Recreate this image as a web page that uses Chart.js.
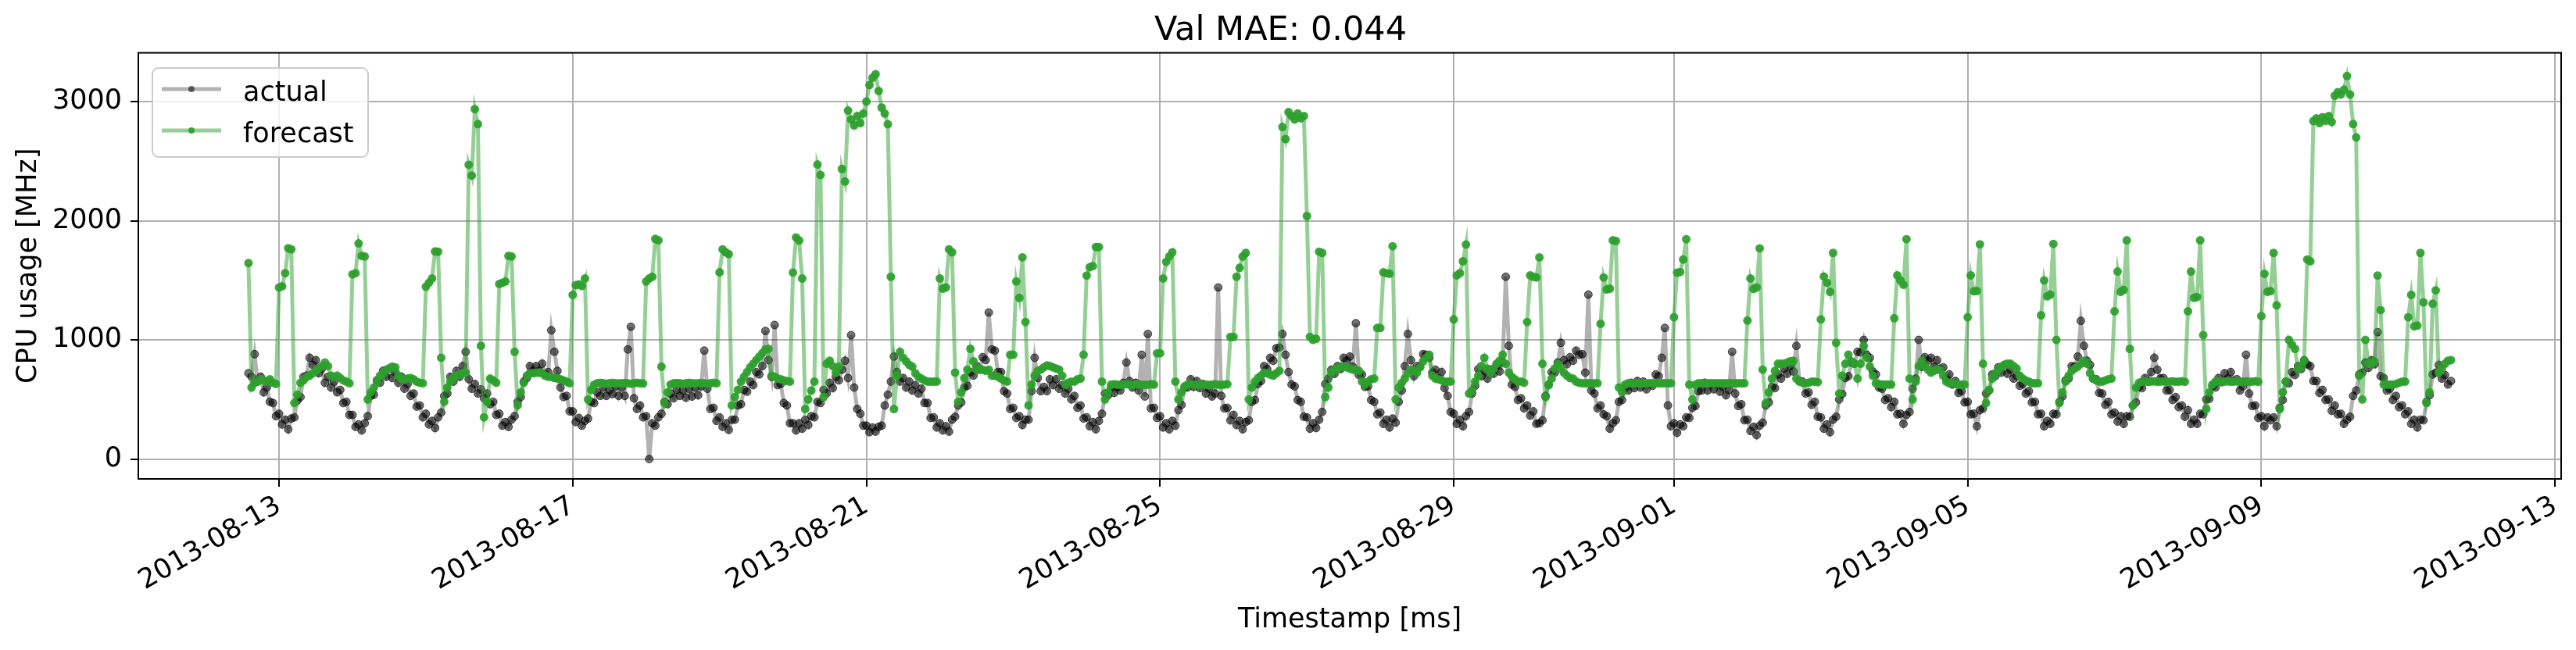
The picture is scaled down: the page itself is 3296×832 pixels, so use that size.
<!DOCTYPE html>
<html>
<head>
<meta charset="utf-8">
<title>Val MAE: 0.044</title>
<script src="https://cdn.jsdelivr.net/npm/chart.js@4.4.1/dist/chart.umd.min.js"></script>
<style>
  html, body { margin: 0; padding: 0; background: #fff; }
  #wrap { width: 3296px; height: 832px; }
</style>
</head>
<body>
<div id="wrap"><canvas id="cpuChart" width="3296" height="832"></canvas></div>
<script>
// hourly samples, first one at 2013-08-12 14:00
const startTime = Date.UTC(2013, 7, 12, 14);
const stepMs = 3600 * 1000;

const xTickLabels = ["2013-08-13", "2013-08-17", "2013-08-21", "2013-08-25", "2013-08-29",
                     "2013-09-01", "2013-09-05", "2013-09-09", "2013-09-13"];
const yTicks = [0, 1000, 2000, 3000];

const actual = [
  720, 690, 880, 650, 690, 560, 600, 480, 470, 360,
  380, 290, 330, 250, 340, 350, 490, 520, 690, 700, 850, 790, 830, 720, 760, 640, 690, 600, 650, 560, 580, 470, 480, 370,
  370, 270, 290, 240, 300, 360, 530, 540, 660, 640, 740, 690, 760, 680, 730, 640, 690, 590, 630, 530, 550, 440, 450, 350,
  380, 290, 320, 260, 350, 390, 530, 550, 690, 650, 740, 690, 780, 900, 670, 590, 630, 550, 585, 510, 550, 460, 480, 370,
  380, 280, 310, 270, 330, 360, 480, 520, 650, 680, 780, 740, 780, 740, 800, 710, 730, 1080, 900, 740, 600, 520, 530, 400,
  400, 310, 345, 280, 320, 340, 480, 470, 560, 530, 600, 530, 580, 545, 610, 530, 600, 530, 920, 1110, 510, 420, 450, 350,
  360, 0, 300, 280, 350, 380, 480, 460, 550, 510, 580, 530, 575, 515, 590, 525, 600, 535, 610, 910, 590, 420, 430, 320,
  350, 270, 300, 245, 330, 330, 450, 460, 580, 565, 650, 620, 730, 710, 780, 1075, 830, 690, 1125, 620, 630, 470, 450, 300,
  300, 240, 300, 255, 330, 285, 360, 350, 480, 470, 580, 550, 640, 595, 690, 660, 750, 825, 680, 1040, 600, 420, 380, 280,
  280, 225, 265, 230, 270, 280, 450, 540, 650, 860, 730, 650, 680, 600, 650, 575, 620, 550, 590, 470, 470, 345, 350, 265,
  300, 240, 275, 230, 330, 355, 450, 475, 600, 615, 730, 700, 780, 750, 855, 830, 1230, 920, 910, 730, 730, 570, 550, 420,
  430, 345, 360, 285, 330, 330, 570, 850, 680, 570, 605, 570, 670, 620, 670, 590, 620, 550, 590, 500, 530, 430, 450, 340,
  350, 275, 310, 250, 320, 380, 550, 535, 600, 555, 605, 575, 640, 810, 655, 600, 640, 575, 875, 525, 1050, 425, 430, 345,
  360, 265, 300, 250, 320, 280, 410, 455, 600, 600, 670, 605, 655, 595, 630, 550, 590, 525, 550, 1440, 530, 425, 430, 325,
  370, 285, 320, 250, 310, 325, 480, 495, 630, 655, 780, 755, 850, 825, 930, 935, 1050, 875, 730, 625, 610, 495, 480, 355,
  350, 255, 300, 260, 330, 395, 630, 675, 750, 715, 780, 755, 850, 825, 860, 775, 1140, 705, 710, 605, 610, 495, 480, 375,
  390, 295, 330, 265, 340, 305, 480, 575, 780, 1050, 830, 695, 780, 775, 880, 875, 850, 725, 750, 675, 730, 595, 530, 395,
  380, 295, 330, 275, 360, 395, 550, 615, 755, 695, 740, 675, 750, 715, 780, 735, 810, 1530, 950, 625, 605, 495, 510, 425,
  450, 365, 400, 295, 300, 325, 530, 625, 730, 725, 810, 975, 830, 795, 855, 825, 910, 875, 880, 725, 1380, 575, 550, 425,
  450, 375, 360, 255, 300, 325, 480, 495, 600, 575, 640, 595, 655, 600, 650, 585, 630, 615, 710, 695, 850, 1100, 450, 275,
  300, 220, 290, 275, 350, 345, 430, 445, 570, 575, 640, 575, 630, 585, 630, 565, 605, 535, 580, 900, 550, 445, 460, 325,
  330, 235, 270, 200, 280, 305, 450, 475, 605, 595, 710, 675, 760, 715, 780, 735, 950, 655, 650, 550, 560, 455, 480, 355,
  350, 255, 290, 225, 330, 355, 500, 545, 680, 695, 810, 800, 900, 895, 1000, 875, 850, 735, 710, 600, 590, 495, 510, 435,
  480, 375, 380, 295, 370, 395, 590, 675, 1000, 775, 855, 825, 850, 775, 830, 755, 770, 675, 710, 625, 655, 555, 570, 475,
  480, 375, 380, 275, 410, 425, 550, 575, 710, 695, 770, 725, 790, 715, 750, 675, 700, 615, 630, 550, 570, 475, 480, 375,
  380, 275, 320, 295, 380, 375, 480, 525, 660, 675, 780, 775, 860, 1160, 950, 825, 790, 675, 670, 555, 550, 455, 480, 375,
  390, 315, 360, 295, 360, 355, 450, 475, 605, 595, 680, 650, 730, 850, 750, 675, 680, 575, 580, 495, 520, 435, 450, 355,
  410, 295, 330, 295, 380, 375, 500, 505, 610, 600, 680, 645, 720, 675, 730, 655, 670, 575, 610, 875, 550, 445, 450, 345,
  360, 275, 350, 325, 350, 275, 430, 495, 650, 635, 730, 705, 780, 755, 830, 795, 780, 655, 655, 555, 580, 495, 500, 405,
  450, 375, 380, 295, 330, 355, 530, 575, 710, 725, 810, 765, 830, 795, 1065, 695, 680, 575, 590, 495, 530, 435, 450, 375,
  400, 295, 330, 265, 330, 325, 480, 535, 710, 725, 790, 675, 705, 625, 655
];

const forecast = [
  1645, 600, 640, 650, 670, 660, 650, 670, 640, 630,
  1440, 1450, 1560, 1770, 1760, 470, 540, 640, 660, 690, 700, 720, 740, 760, 780, 810, 780, 700, 690, 700, 680, 660, 650, 636,
  1550, 1560, 1810, 1705, 1700, 500, 560, 600, 650, 700, 720, 750, 760, 775, 770, 700, 675, 670, 675, 680, 670, 650, 640, 636,
  1446, 1480, 1516, 1743, 1740, 850, 480, 600, 650, 680, 700, 710, 720, 725, 2470, 2380, 2937, 2812, 950, 350, 480, 675, 660, 640,
  1470, 1480, 1490, 1705, 1700, 900, 450, 560, 640, 700, 720, 720, 725, 725, 720, 700, 690, 690, 680, 675, 670, 660, 650, 636,
  1378, 1460, 1466, 1453, 1516, 500, 580, 624, 636, 640, 636, 632, 636, 640, 636, 634, 636, 638, 636, 632, 636, 640, 636, 634,
  1490, 1516, 1530, 1848, 1836, 775, 470, 560, 625, 636, 638, 636, 632, 636, 640, 636, 634, 636, 638, 636, 632, 636, 640, 636,
  1567, 1760, 1735, 1720, 450, 520, 580, 650, 690, 730, 770, 800, 830, 860, 890, 920, 925, 700, 690, 675, 670, 660, 655, 650,
  1565, 1860, 1835, 1516, 420, 500, 575, 650, 2472, 2385, 520, 800, 825, 780, 725, 775, 2435, 2330, 2925, 2850, 2800, 2880, 2820, 2900,
  3000, 3140, 3200, 3230, 3090, 2950, 2900, 2810, 1530, 420, 700, 900, 850, 820, 790, 775, 720, 690, 675, 660, 650, 650, 650, 650,
  1516, 1430, 1440, 1760, 1735, 725, 480, 560, 680, 750, 925, 820, 750, 760, 750, 740, 750, 700, 700, 690, 675, 660, 650, 875,
  875, 1490, 1353, 1693, 1150, 450, 625, 700, 740, 750, 770, 785, 780, 770, 760, 750, 700, 625, 640, 650, 650, 670, 675, 875,
  1540, 1610, 1620, 1780, 1780, 650, 500, 560, 625, 628, 625, 622, 625, 628, 625, 622, 625, 628, 625, 622, 625, 628, 625, 888,
  888, 1516, 1655, 1700, 1735, 650, 500, 560, 610, 625, 628, 625, 622, 625, 628, 625, 622, 625, 628, 625, 622, 625, 628, 1025,
  1025, 1530, 1605, 1700, 1730, 500, 600, 650, 680, 700, 725, 720, 710, 700, 720, 740, 2787, 2686, 2912, 2880, 2850, 2900, 2860, 2880,
  2040, 1025, 1000, 1010, 1740, 1730, 520, 600, 725, 750, 760, 775, 775, 770, 760, 750, 750, 740, 650, 625, 650, 670, 675, 1100,
  1100, 1567, 1560, 1555, 1786, 500, 600, 640, 675, 720, 750, 740, 725, 770, 820, 850, 875, 700, 675, 670, 660, 650, 650, 650,
  1172, 1542, 1560, 1660, 1800, 550, 575, 650, 700, 780, 850, 760, 725, 760, 800, 825, 875, 800, 725, 690, 670, 650, 650, 640,
  1150, 1542, 1530, 1524, 1693, 800, 520, 620, 675, 760, 800, 760, 725, 700, 680, 675, 650, 640, 636, 636, 636, 636, 636, 636,
  1135, 1524, 1423, 1430, 1836, 1830, 600, 560, 625, 636, 636, 636, 636, 636, 636, 636, 636, 636, 636, 636, 636, 636, 636, 636,
  1190, 1564, 1570, 1675, 1845, 625, 500, 625, 636, 636, 636, 636, 636, 636, 636, 636, 636, 636, 636, 636, 636, 636, 636, 636,
  1162, 1516, 1428, 1440, 1768, 750, 470, 560, 675, 740, 800, 800, 800, 810, 820, 825, 675, 650, 640, 636, 640, 650, 650, 645,
  1172, 1532, 1480, 1403, 1730, 975, 550, 700, 800, 875, 820, 800, 675, 800, 950, 850, 775, 700, 636, 630, 625, 625, 625, 625,
  1182, 1542, 1500, 1463, 1845, 675, 500, 650, 780, 825, 780, 750, 725, 740, 750, 750, 700, 650, 636, 636, 630, 625, 625, 625,
  1190, 1542, 1408, 1410, 1803, 800, 470, 580, 675, 720, 750, 775, 790, 800, 800, 780, 760, 700, 675, 660, 650, 636, 636, 636,
  1207, 1499, 1366, 1380, 1806, 1000, 470, 560, 650, 700, 740, 760, 775, 800, 825, 800, 720, 675, 660, 650, 650, 660, 670, 675,
  1240, 1574, 1403, 1420, 1836, 925, 450, 600, 640, 650, 652, 648, 650, 652, 648, 650, 652, 648, 650, 652, 648, 650, 652, 648,
  1240, 1574, 1353, 1360, 1836, 1040, 420, 560, 625, 650, 652, 648, 650, 652, 648, 650, 652, 648, 650, 652, 648, 650, 652, 648,
  1200, 1555, 1403, 1410, 1730, 1290, 420, 560, 650, 1000, 960, 925, 750, 780, 825, 1675, 1660, 2837, 2860, 2820, 2870, 2840, 2880, 2830,
  3050, 3080, 3060, 3100, 3215, 3060, 2812, 2700, 700, 500, 1000, 800, 800, 820, 1540, 1250, 625, 625, 625, 625, 630, 640, 650, 650,
  1190, 1378, 1114, 1120, 1730, 1315, 470, 560, 1303, 1416, 725, 760, 800, 825, 830
];

const fontFamily = "'DejaVu Sans', sans-serif";
const xTickValues = xTickLabels.map(s => Date.parse(s + "T00:00:00Z"));
const toPoints = vals => vals.map((v, i) => ({ x: startTime + i * stepMs, y: v }));

// box around the plot + legend in the upper left, like the matplotlib figure
const frameAndLegend = {
  id: "frameAndLegend",
  afterDatasetsDraw(chart) {
    const { ctx, chartArea: a } = chart;
    ctx.save();
    ctx.strokeStyle = "#000";
    ctx.lineWidth = 2;
    ctx.strokeRect(a.left, a.top, a.right - a.left, a.bottom - a.top);

    // legend box
    const bx = 195, by = 87, bw = 276, bh = 114, r = 8;
    ctx.beginPath();
    ctx.roundRect(bx, by, bw, bh, r);
    ctx.fillStyle = "rgba(255,255,255,0.8)";
    ctx.fill();
    ctx.strokeStyle = "#cccccc";
    ctx.lineWidth = 2;
    ctx.stroke();

    const rows = [114, 167];
    chart.data.datasets.forEach((ds, i) => {
      const y = rows[i];
      ctx.beginPath();
      ctx.moveTo(207, y);
      ctx.lineTo(283, y);
      ctx.strokeStyle = ds.borderColor;
      ctx.lineWidth = 5;
      ctx.stroke();
      ctx.beginPath();
      ctx.arc(245, y, 4, 0, Math.PI * 2);
      ctx.fillStyle = ds.pointBackgroundColor;
      ctx.fill();
      ctx.fillStyle = "#000";
      ctx.font = "35px " + fontFamily;
      ctx.textBaseline = "alphabetic";
      ctx.textAlign = "left";
      ctx.fillText(ds.label, 311, y + 15);
    });
    ctx.restore();
  }
};

const ctx = document.getElementById("cpuChart").getContext("2d");

const cpuChart = new Chart(ctx, {
  type: "line",
  data: {
    datasets: [
      {
        label: "actual",
        data: toPoints(actual),
        borderColor: "rgba(0,0,0,0.3)",
        borderWidth: 5,
        pointRadius: 5,
        pointBackgroundColor: "rgba(0,0,0,0.55)",
        pointBorderColor: "rgba(0,0,0,0.65)",
        pointBorderWidth: 1,
        order: 2
      },
      {
        label: "forecast",
        data: toPoints(forecast),
        borderColor: "rgba(44,160,44,0.5)",
        borderWidth: 5,
        pointRadius: 5.5,
        pointBackgroundColor: "rgba(44,160,44,0.92)",
        pointBorderColor: "rgba(44,160,44,0.92)",
        pointBorderWidth: 0,
        order: 1
      }
    ]
  },
  options: {
    responsive: false,
    animation: false,
    devicePixelRatio: 1,
    parsing: false,
    elements: { line: { tension: 0 }, point: { hoverRadius: 0 } },
    layout: { padding: { top: 0, right: 19, bottom: 0, left: 0 } },
    plugins: {
      legend: { display: false },
      tooltip: { enabled: false },
      title: {
        display: true,
        text: "Val MAE: 0.044",
        color: "#000",
        font: { size: 43, weight: "normal", family: fontFamily },
        padding: { top: 14, bottom: 2 }
      }
    },
    scales: {
      x: {
        type: "linear",
        min: Date.UTC(2013, 7, 11, 2),
        max: Date.UTC(2013, 8, 13, 2),
        afterBuildTicks: s => { s.ticks = xTickValues.map(v => ({ value: v })); },
        afterFit: s => { s.height = 219; },
        ticks: {
          autoSkip: false,
          minRotation: 30,
          maxRotation: 30,
          padding: 4,
          color: "#000",
          font: { size: 35, family: fontFamily },
          callback: (v, i) => xTickLabels[i]
        },
        grid: { color: "#b0b0b0", lineWidth: 2, tickColor: "#000", tickLength: 10, tickWidth: 2 },
        border: { display: true, color: "#000", width: 2 },
        title: {
          display: true,
          text: "Timestamp [ms]",
          color: "#000",
          font: { size: 35, family: fontFamily },
          padding: { top: 0, bottom: 17 }
        }
      },
      y: {
        min: -167,
        max: 3410,
        afterBuildTicks: s => { s.ticks = yTicks.map(v => ({ value: v })); },
        afterFit: s => { s.width = 177; },
        ticks: {
          padding: 11,
          color: "#000",
          font: { size: 35, family: fontFamily },
          callback: v => String(v)
        },
        grid: { color: "#b0b0b0", lineWidth: 2, tickColor: "#000", tickLength: 10, tickWidth: 2 },
        border: { display: true, color: "#000", width: 2 },
        title: {
          display: true,
          text: "CPU usage [MHz]",
          color: "#000",
          font: { size: 35, family: fontFamily },
          padding: { top: 16, bottom: 0 }
        }
      }
    }
  },
  plugins: [frameAndLegend]
});
</script>
</body>
</html>
